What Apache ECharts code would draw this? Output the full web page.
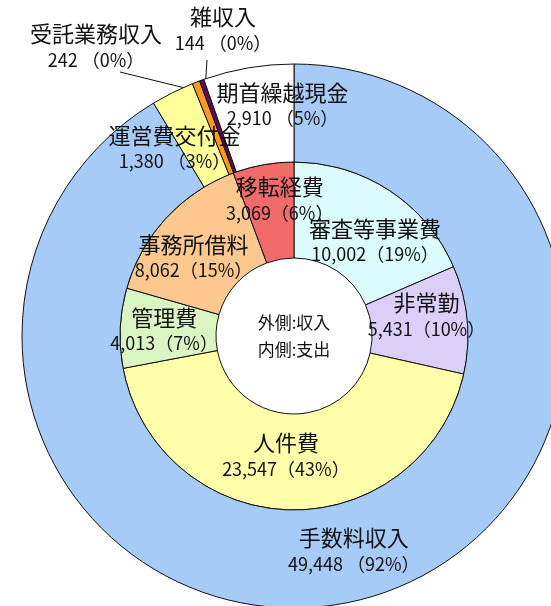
<!DOCTYPE html>
<html><head><meta charset="utf-8">
<script src="https://cdn.jsdelivr.net/npm/echarts@6/dist/echarts.min.js"></script>
<style>html,body{margin:0;padding:0;background:#fff}#c{width:551px;height:606px}</style>
</head><body><div id="c"></div>
<script>
// ---- data ----
const incomeNames = ['手数料収入', '運営費交付金', '受託業務収入', '雑収入', '期首繰越現金'];
const incomeValues = [49448, 1380, 242, 144, 2910];
const incomePct = ['92%', '3%', '0%', '0%', '5%'];
const expenseNames = ['審査等事業費', '非常勤', '人件費', '管理費', '事務所借料', '移転経費'];
const expenseValues = [10002, 5431, 23547, 4013, 8062, 3069];
const expensePct = ['19%', '10%', '43%', '7%', '15%', '6%'];
const centerLines = ['外側:収入', '内側:支出'];

// ---- styles / layout ----
const incomeColors = ['#a7cbf7', '#ffff99', '#ff9922', '#5a1050', '#ffffff'];
const expenseColors = ['#dcfcfc', '#dccff7', '#ffffaa', '#daf5c2', '#fcc890', '#f26b6b'];
const CX = 294, CY = 336;
const R_IN = [78, 174], R_OUT = [174, 272];
const FONT = '"Noto Sans CJK JP", "Noto Sans", sans-serif';
const TXT = '#111';
// shifts of inside labels from their default mid point
const incomeShift = [[0, 0], [-20, 12], null, null, [26, -11]];
const expenseShift = [[12, 11], [7, -8], [-6, -6], [-4, 0], [-8, 7], [8, -12]];
// outside labels: label centre and leader line end (relative to centre)
const incomeOutside = {2: {pos: [96, 47], end: [24, 25]}, 3: {pos: [223, 30], end: [-16, 30]}};

const fmt = v => v.toLocaleString('en-US');
function midAngle(vals, i) {
  const tot = vals.reduce((a, b) => a + b, 0);
  let before = 0;
  for (let k = 0; k < i; k++) before += vals[k];
  return (before + vals[i] / 2) / tot * 2 * Math.PI;
}
function polar(a, r) { return [CX + r * Math.sin(a), CY - r * Math.cos(a)]; }

const richStyle = {
  n: {fontSize: 22, lineHeight: 26, color: TXT, fontFamily: FONT},
  v: {fontSize: 18, lineHeight: 26, color: TXT, fontFamily: FONT}
};

const chart = echarts.init(document.getElementById('c'), null, {renderer: 'canvas'});
chart.setOption({
  animation: false,
  backgroundColor: '#fff',
  graphic: [{
    type: 'text', x: CX, y: CY, z: 100,
    style: {text: centerLines.join('\n'), font: '17px ' + FONT, lineHeight: 27,
      fill: TXT, align: 'center', verticalAlign: 'middle'}
  }],
  series: [
    {
      type: 'pie', center: [CX, CY], radius: R_IN, startAngle: 90, clockwise: true,
      avoidLabelOverlap: false, silent: true,
      itemStyle: {borderColor: '#111', borderWidth: 1},
      label: {show: true, position: 'inside', rich: richStyle,
        formatter: p => '{n|' + p.name + '}\n{v|' + fmt(p.value) + '（' + expensePct[p.dataIndex] + '）}'},
      labelLine: {show: false},
      labelLayout: p => {
        const i = p.dataIndex;
        const a = midAngle(expenseValues, i);
        const c = polar(a, (R_IN[0] + R_IN[1]) / 2);
        const s = expenseShift[i];
        return {x: c[0] + s[0], y: c[1] + s[1], align: 'center', verticalAlign: 'middle'};
      },
      data: expenseNames.map((n, i) => ({name: n, value: expenseValues[i], itemStyle: {color: expenseColors[i]}}))
    },
    {
      type: 'pie', center: [CX, CY], radius: R_OUT, startAngle: 90, clockwise: true,
      avoidLabelOverlap: false, silent: true,
      itemStyle: {borderColor: '#111', borderWidth: 1},
      label: {show: true, position: 'inside', rich: richStyle,
        formatter: p => '{n|' + p.name + '}\n{v|' + fmt(p.value) + ' （' + incomePct[p.dataIndex] + '）}'},
      labelLine: {show: false},
      labelLayout: p => {
        const i = p.dataIndex;
        const a = midAngle(incomeValues, i);
        if (incomeOutside[i]) {
          const o = incomeOutside[i];
          const st = polar(a, 262);
          const en = [o.pos[0] + o.end[0], o.pos[1] + o.end[1]];
          return {x: o.pos[0], y: o.pos[1], align: 'center', verticalAlign: 'middle',
            labelLinePoints: [st, en, en]};
        }
        const c = polar(a, (R_OUT[0] + R_OUT[1]) / 2);
        const s = incomeShift[i];
        return {x: c[0] + s[0], y: c[1] + s[1], align: 'center', verticalAlign: 'middle'};
      },
      data: incomeNames.map((n, i) => {
        const d = {name: n, value: incomeValues[i], itemStyle: {color: incomeColors[i]}};
        if (incomeOutside[i]) {
          d.label = {position: 'outside'};
          d.labelLine = {show: true, length: 10, length2: 10, lineStyle: {color: '#111', width: 1}};
        }
        return d;
      })
    }
  ]
});
</script>
</body></html>
